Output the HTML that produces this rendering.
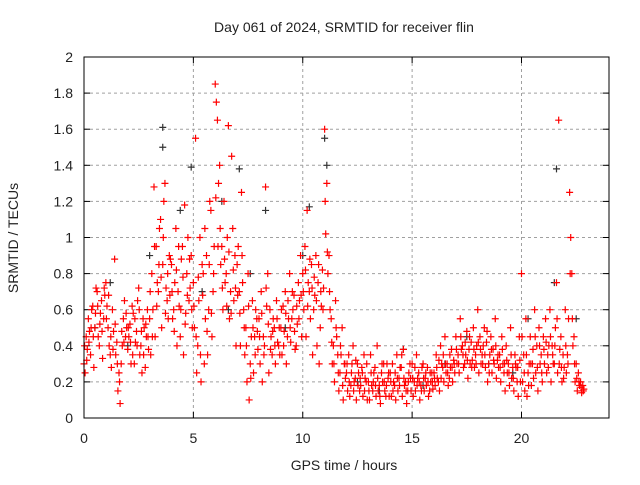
<!DOCTYPE html>
<html><head><meta charset="utf-8"><style>
body{margin:0;background:#fff}
svg text{font-family:"Liberation Sans",sans-serif;fill:#222}
</style></head><body>
<svg id="chart" width="640" height="480" xmlns="http://www.w3.org/2000/svg">
<text x="344" y="32" text-anchor="middle" font-size="14">Day 061 of 2024, SRMTID for receiver flin</text>
<text x="344" y="470" text-anchor="middle" font-size="14">GPS time / hours</text>
<text transform="translate(18,238) rotate(-90)" text-anchor="middle" font-size="14">SRMTID / TECUs</text>
<g id="grid"></g>
<g id="marks"></g>
<rect x="84" y="57" width="525" height="361" fill="none" stroke="#000" stroke-width="1"/>
</svg>
<script>
const xTicks=[0,5,10,15,20];
const yTicks=[0,0.2,0.4,0.6,0.8,1,1.2,1.4,1.6,1.8,2];
const yTickLabels=["0","0.2","0.4","0.6","0.8","1","1.2","1.4","1.6","1.8","2"];
const redStart=0, redStep=0.1;
const redA=[.30,.45,.55,.35,.62,.50,.70,.40,.65,.55,
.75,.50,.35,.60,.88,.42,.25,.30,.55,.45,
.38,.52,.62,.30,.48,.72,.40,.55,.28,.60,
.55,.80,1.28,.95,.70,1.10,.85,1.30,.65,.90,
.85,.60,1.05,.70,.45,.95,1.18,.80,.65,.90,
.75,1.55,.40,1.00,.85,.30,.90,.60,1.15,.70,
1.85,1.65,1.40,.95,1.20,.80,1.62,.70,1.05,.90,
.85,.70,1.25,.60,.50,.80,.30,.65,.45,.55,
.55,.70,.45,1.28,.80,.60,.35,.50,.65,.40,
.50,.62,.70,.45,.80,.55,.68,.40,.75,.90,
.80,.95,1.15,.70,.85,.60,.90,.75,.50,.82,
1.60,1.30,.90,.55,.40,.65,.35,.25,.50,.30,
.25,.35,.18,.40,.22,.30,.15,.28,.35,.20,
.20,.35,.15,.28,.40,.18,.25,.30,.12,.22,
.25,.30,.18,.35,.22,.28,.38,.20,.15,.30,
.30,.20,.35,.25,.18,.30,.22,.28,.15,.25,
.25,.35,.20,.40,.28,.45,.30,.22,.38,.32,
.45,.35,.55,.40,.30,.48,.38,.42,.50,.35,
.60,.45,.35,.50,.42,.30,.45,.38,.55,.32,
.35,.45,.25,.40,.30,.50,.28,.35,.20,.45,
.80,.35,.55,.25,.45,.30,.60,.40,.50,.35,
.45,.55,.35,.60,.40,.30,.75,1.65,.45,.35,
.60,.35,1.25,.80,.45,.30,.25,.20,.18];
const redB=[.25,.38,.48,.60,.28,.72,.45,.58,.33,.68,
.62,.40,.28,.48,.35,.15,.08,.40,.65,.50,
.45,.30,.58,.42,.65,.35,.25,.50,.45,.38,
.35,.60,.45,.75,1.05,.50,1.20,.72,.55,.88,
.55,.75,.40,.62,.88,.35,.58,1.00,.72,.50,
.50,.25,.65,.20,.80,.55,.35,1.20,.45,.95,
1.75,1.30,.85,.60,.75,1.00,.55,1.45,.65,.40,
.95,.40,.75,.35,.20,.10,.45,.25,.60,.38,
.30,.20,.40,.62,.25,.45,.55,.30,.42,.35,
.35,.48,.30,.55,.42,.60,.38,.52,.65,.45,
.60,.45,.75,.55,.35,.68,.40,.30,.62,.72,
1.02,.80,.60,.30,.20,.45,.15,.35,.10,.22,
.15,.12,.30,.20,.10,.25,.18,.12,.22,.10,
.10,.18,.25,.12,.15,.08,.20,.15,.30,.12,
.12,.20,.10,.15,.28,.12,.18,.08,.25,.15,
.12,.15,.22,.10,.28,.15,.18,.12,.20,.16,
.18,.22,.15,.30,.20,.25,.18,.28,.20,.25,
.30,.25,.38,.28,.35,.22,.30,.32,.28,.40,
.25,.30,.40,.28,.20,.35,.25,.30,.22,.28,
.20,.30,.15,.25,.18,.22,.15,.28,.12,.20,
.20,.15,.12,.30,.18,.22,.25,.15,.30,.20,
.30,.25,.40,.20,.30,.50,.25,.38,.20,.28,
.25,.55,1.00,.40,.20,.15,.18,.14,.16];
const redC=[.40,.32,.42,.50,.45,.58,.62,.52,.48,.72,
.55,.68,.45,.38,.52,.30,.20,.48,.42,.58,
.50,.42,.35,.55,.40,.60,.48,.35,.52,.45,
.70,.45,.95,.62,.85,.78,1.00,.58,.80,.68,
.70,.48,.82,.95,.60,.78,.52,.68,.88,.60,
.62,.45,.78,.35,.68,1.05,.48,.85,.58,.80,
1.22,.95,1.05,.72,.88,.62,.92,.58,.82,.72,
.68,.58,.90,.50,.40,.62,.22,.50,.35,.48,
.45,.58,.35,.72,.52,.38,.48,.40,.55,.50,
.60,.40,.58,.65,.50,.70,.48,.62,.55,.68,
.70,.82,.62,.88,.72,.78,.65,.85,.70,.60,
1.20,.92,.70,.42,.30,.50,.25,.40,.18,.30,
.30,.20,.25,.15,.32,.18,.22,.25,.15,.30,
.15,.25,.20,.18,.22,.12,.30,.20,.18,.25,
.20,.15,.25,.22,.18,.35,.22,.15,.20,.22,
.22,.28,.18,.20,.15,.22,.25,.20,.25,.20,
.22,.28,.32,.22,.35,.30,.25,.35,.28,.30,
.38,.30,.45,.35,.42,.32,.45,.28,.38,.30,
.42,.38,.30,.35,.48,.25,.38,.32,.40,.35,
.28,.38,.30,.32,.25,.35,.22,.30,.28,.32,
.45,.25,.35,.18,.30,.38,.45,.28,.40,.25,
.38,.42,.28,.45,.35,.40,.55,.30,.28,.22,
.40,.30,.80,.55,.30,.22,.20,.17,.15];
const blackT=[0.5,1.2,2.0,3.0,3.6,3.6,4.4,4.9,5.4,6.3,6.6,7.1,7.6,8.3,9.2,10.0,10.3,11.0,11.1,12.5,13.5,14.6,15.5,16.5,17.5,18.5,19.6,20.3,21.5,21.6,22.5];
const blackV=[.5,.75,.4,.9,1.61,1.5,1.15,1.39,.7,1.2,.6,1.38,.8,1.15,.5,.9,1.17,1.55,1.4,.2,.15,.38,.18,.3,.45,.3,.25,.55,.75,1.38,.55];

const X0=84,X1=609,Y0=418,Y1=57,XMAX=24,YMAX=2;
const xs=t=>X0+(X1-X0)*t/XMAX;
const ys=v=>Y0-(Y0-Y1)*v/YMAX;
const NS="http://www.w3.org/2000/svg";
const svg=document.getElementById('chart'),grid=document.getElementById('grid'),marks=document.getElementById('marks');
function mk(tag,attrs,parent){const e=document.createElementNS(NS,tag);for(const k in attrs)e.setAttribute(k,attrs[k]);parent.appendChild(e);return e;}
xTicks.forEach(t=>{
  const x=xs(t);
  if(t>0){const g=mk('line',{x1:x,x2:x,y1:Y1,y2:Y0,stroke:'#a0a0a0','stroke-dasharray':'3,3'},grid);
  
  }
  mk('line',{x1:x,x2:x,y1:Y0,y2:Y0-6,stroke:'#000'},grid);
  mk('line',{x1:x,x2:x,y1:Y1,y2:Y1+6,stroke:'#000'},grid);
  const lb=mk('text',{x:x,y:443,'text-anchor':'middle','font-size':'14'},svg);
  lb.textContent=t;
  
  
});
yTicks.forEach((v,i)=>{
  const y=ys(v);
  if(v>0&&v<YMAX){const g=mk('line',{x1:X0,x2:X1,y1:y,y2:y,stroke:'#a0a0a0','stroke-dasharray':'3,3'},grid);
  
  }
  mk('line',{x1:X0,x2:X0+6,y1:y,y2:y,stroke:'#000'},grid);
  mk('line',{x1:X1,x2:X1-6,y1:y,y2:y,stroke:'#000'},grid);
  const lb=mk('text',{x:73,y:y+5,'text-anchor':'end','font-size':'14'},svg);
  lb.textContent=yTickLabels[i];
  
  
});
function plus(t,v,col,name){
  const x=xs(t),y=ys(v);
  const p=mk('path',{d:`M${x-3.5} ${y}H${x+3.5}M${x} ${y-3.5}V${y+3.5}`,stroke:col,'stroke-width':'1.2',fill:'none'},marks);
  
  
}
blackT.forEach((t,i)=>plus(t,blackV[i],'#333','point-black'));
redA.forEach((v,i)=>plus(redStart+i*redStep,v,'#f00','point-red'));
redB.forEach((v,i)=>plus(redStart+i*redStep+0.05,v,'#f00','point-red'));
redC.forEach((v,i)=>plus(redStart+i*redStep+0.025,v,'#f00','point-red'));
</script>
</body></html>
